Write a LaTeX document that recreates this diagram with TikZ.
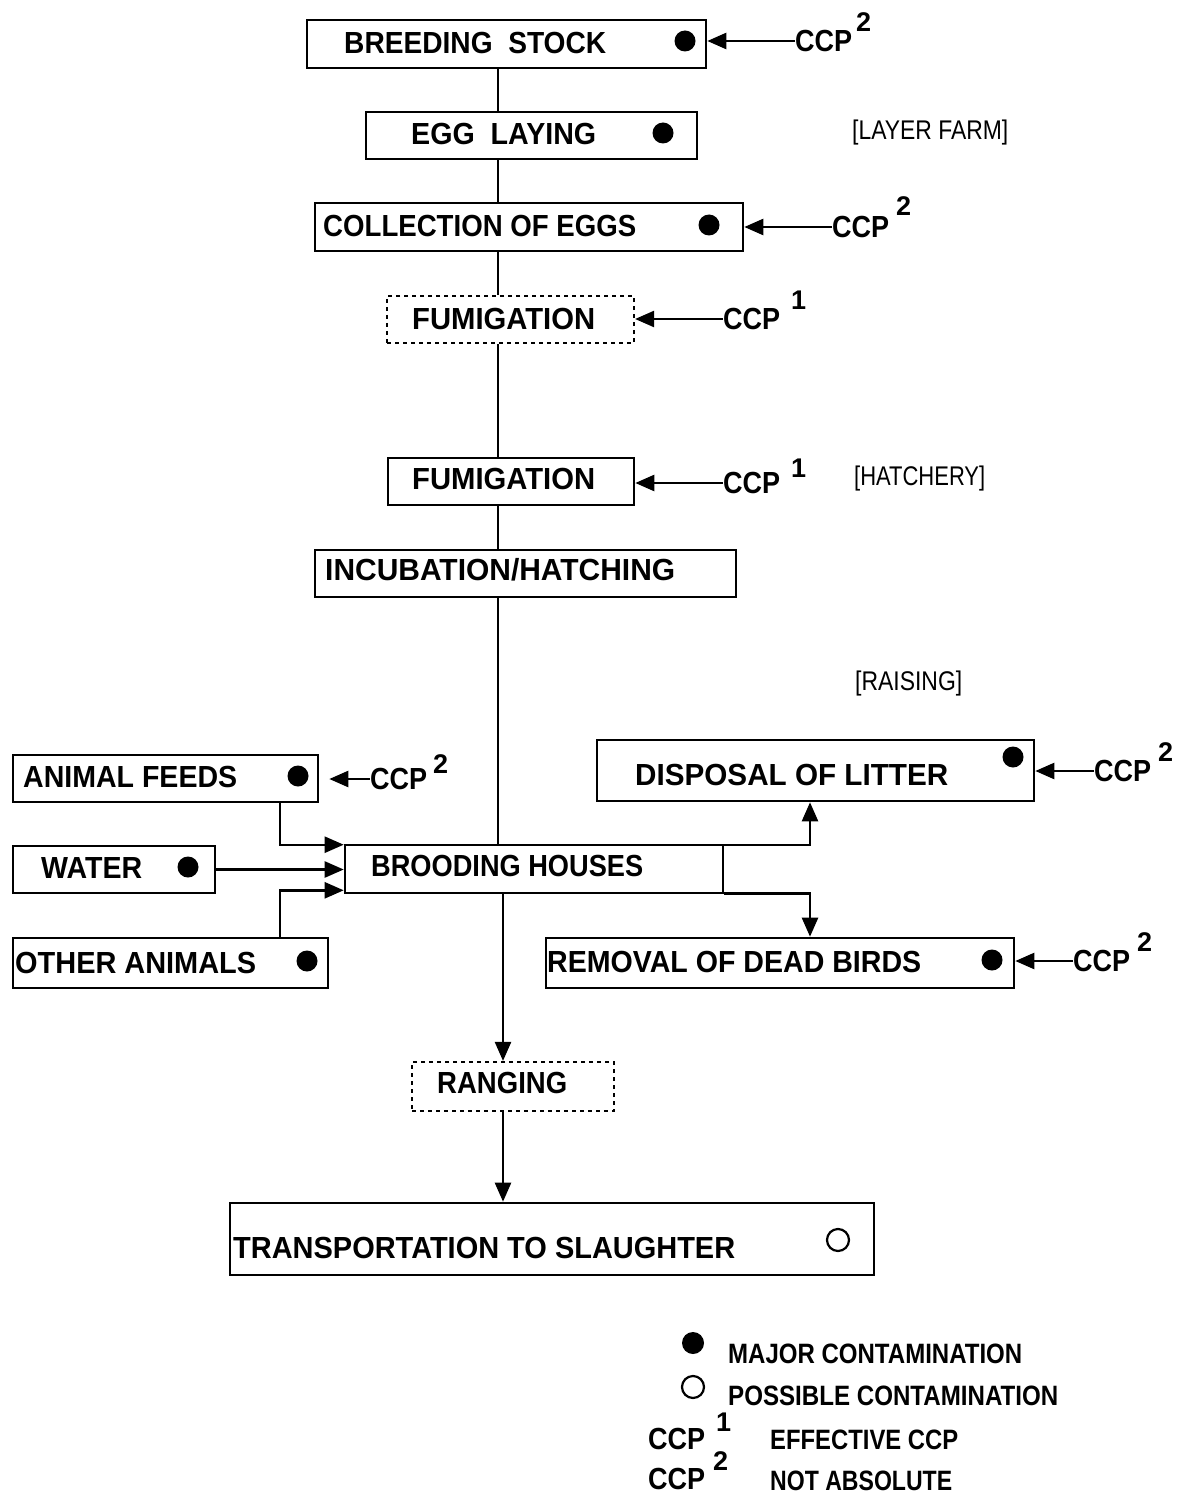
\documentclass[tikz,border=0pt]{standalone}
\usepackage{fontspec}
\setmainfont{Liberation Sans}
\usetikzlibrary{arrows.meta}
\newcommand\tx[2]{\resizebox{#1pt}{\height}{#2}}
\begin{document}
\begin{tikzpicture}[x=1pt,y=-1pt,
 box/.style={draw, line width=2.6pt, inner sep=0pt},
 dbox/.style={draw, line width=2.2pt, dash pattern=on 4pt off 4pt, inner sep=0pt},
 lbl/.style={inner sep=0pt, anchor=west, font=\fontsize{30.5}{32}\selectfont\bfseries},
 suplbl/.style={inner sep=0pt, anchor=west, font=\fontsize{27}{28}\selectfont\bfseries},
 leglbl/.style={inner sep=0pt, anchor=west, font=\fontsize{28}{30}\selectfont\bfseries},
 blbl/.style={inner sep=0pt, anchor=west, font=\fontsize{27}{28}\selectfont},
 dot/.style={circle, fill, inner sep=0pt, minimum size=21pt},
 odot/.style={circle, draw, line width=2.2pt, inner sep=0pt, minimum size=22pt},
 conn/.style={line width=2.4pt},
 arr/.style={line width=2.4pt, -{Triangle[length=19pt,width=16pt]}},
]
\useasboundingbox (0,0) rectangle (1184,1495);

% boxes
\node[box, minimum width=399pt, minimum height=48pt] (bs) at (506.5,44) {};
\node[box, minimum width=331pt, minimum height=47pt] (el) at (531.5,135.5) {};
\node[box, minimum width=428pt, minimum height=48pt] (ce) at (529,227) {};
\node[dbox, minimum width=247pt, minimum height=47pt] (f1) at (510.5,319.5) {};
\node[box, minimum width=246pt, minimum height=47pt] (f2) at (511,481.5) {};
\node[box, minimum width=421pt, minimum height=47pt] (ih) at (525.5,573.5) {};
\node[box, minimum width=305pt, minimum height=47pt] (af) at (165.5,778.5) {};
\node[box, minimum width=202pt, minimum height=47pt] (wa) at (114,869.5) {};
\node[box, minimum width=315pt, minimum height=50pt] (oa) at (170.5,963) {};
\node[box, minimum width=378pt, minimum height=48pt] (bh) at (534,869) {};
\node[box, minimum width=437pt, minimum height=61pt] (dl) at (815.5,770.5) {};
\node[box, minimum width=468pt, minimum height=50pt] (rd) at (780,963) {};
\node[dbox, minimum width=202pt, minimum height=49pt] (rg) at (513,1086.5) {};
\node[box, minimum width=644pt, minimum height=72pt] (ts) at (552,1239) {};

% box texts
\node[lbl] (bst) at (344,43) {\tx{262}{BREEDING\ \ STOCK}};
\node[lbl] (elt) at (411,134) {\tx{185}{EGG\ \ LAYING}};
\node[lbl] (cet) at (323,226) {\tx{313}{COLLECTION OF EGGS}};
\node[lbl] (f1t) at (412,319) {\tx{183}{FUMIGATION}};
\node[lbl] (f2t) at (412,479) {\tx{183}{FUMIGATION}};
\node[lbl] (iht) at (325,570) {\tx{350}{INCUBATION/HATCHING}};
\node[lbl] (aft) at (23,777) {\tx{214}{ANIMAL FEEDS}};
\node[lbl] (wat) at (41,868) {\tx{101}{WATER}};
\node[lbl] (oat) at (15,963) {\tx{241}{OTHER ANIMALS}};
\node[lbl] (bht) at (371,866) {\tx{272}{BROODING HOUSES}};
\node[lbl] (dlt) at (635,775) {\tx{313}{DISPOSAL OF LITTER}};
\node[lbl] (rdt) at (547,962) {\tx{374}{REMOVAL OF DEAD BIRDS}};
\node[lbl] (rgt) at (437,1083) {\tx{130}{RANGING}};
\node[lbl] (tst) at (233,1248) {\tx{502}{TRANSPORTATION TO SLAUGHTER}};

% dots
\node[dot] (bsd) at (685,41) {};
\node[dot] (eld) at (663,133) {};
\node[dot] (ced) at (709,225) {};
\node[dot] (afd) at (298,776) {};
\node[dot] (wad) at (188,867) {};
\node[dot] (oad) at (307,961) {};
\node[dot] (dld) at (1013,757) {};
\node[dot] (rdd) at (992,960) {};
\node[odot] (tsd) at (838,1240) {};

% CCP labels
\node[lbl] (c1) at (795,41) {\tx{57}{CCP}};
\node[suplbl] (c1s) at (856,22) {2};
\node[lbl] (c2) at (832,227) {\tx{57}{CCP}};
\node[suplbl] (c2s) at (896,206) {2};
\node[lbl] (c3) at (723,319) {\tx{57}{CCP}};
\node[suplbl] (c3s) at (791,300) {1};
\node[lbl] (c4) at (723,483) {\tx{57}{CCP}};
\node[suplbl] (c4s) at (791,468) {1};
\node[lbl] (c5) at (370,779) {\tx{57}{CCP}};
\node[suplbl] (c5s) at (433,764) {2};
\node[lbl] (c6) at (1094,771) {\tx{57}{CCP}};
\node[suplbl] (c6s) at (1158,752) {2};
\node[lbl] (c7) at (1073,961) {\tx{57}{CCP}};
\node[suplbl] (c7s) at (1137,942) {2};

% bracket labels
\node[blbl] (lf) at (852,133) {\tx{156}{[LAYER FARM]}};
\node[blbl] (hy) at (854,479) {\tx{131}{[HATCHERY]}};
\node[blbl] (rs) at (855,684) {\tx{107}{[RAISING]}};

% main line
\coordinate (mx) at (498,0);
\coordinate (mx2) at (503,0);
\draw[conn] (bs.south -| mx) -- (el.north -| mx);
\draw[conn] (el.south -| mx) -- (ce.north -| mx);
\draw[conn] (ce.south -| mx) -- (f1.north -| mx);
\draw[conn] (f1.south -| mx) -- (f2.north -| mx);
\draw[conn] (f2.south -| mx) -- (ih.north -| mx);
\draw[conn] (ih.south -| mx) -- (bh.north -| mx);
\draw[arr] (bh.south -| mx2) -- (rg.north -| mx2);
\draw[arr] (rg.south -| mx2) -- (ts.north -| mx2);

% inputs to brooding
\coordinate (fx) at (280,0);
\draw[arr] (af.south -| fx) |- ([yshift=-1pt]bh.north west);
\draw[arr] (wa.east) -- (wa.east -| bh.west);
\draw[arr] (oa.north -| fx) |- ([yshift=4pt]bh.south west);

% outputs
\coordinate (rx) at (810,0);
\draw[arr] ([yshift=-1pt]bh.north east) -| (dl.south -| rx);
\draw[arr] ([yshift=1pt]bh.south east) -| (rd.north -| rx);

% CCP arrows
\draw[arr] (c1.west) -- (c1.west -| bs.east);
\draw[arr] (c2.west) -- (c2.west -| ce.east);
\draw[arr] (c3.west) -- (c3.west -| f1.east);
\draw[arr] (c4.west) -- (c4.west -| f2.east);
\draw[arr, shorten >=10pt] (c5.west) -- (c5.west -| af.east);
\draw[arr] (c6.west) -- (c6.west -| dl.east);
\draw[arr] (c7.west) -- (c7.west -| rd.east);

% legend
\node[dot, minimum size=22pt] (lgd1) at (693,1343) {};
\node[leglbl] (lgt1) at (728,1354) {\tx{294}{MAJOR CONTAMINATION}};
\node[odot] (lgd2) at (693,1387) {};
\node[leglbl] (lgt2) at (728,1396) {\tx{330}{POSSIBLE CONTAMINATION}};
\node[lbl] (lgc1) at (648,1439) {\tx{57}{CCP}};
\node[suplbl] (lgc1s) at (716,1422) {1};
\node[leglbl] (lgt3) at (770,1440) {\tx{188}{EFFECTIVE CCP}};
\node[lbl] (lgc2) at (648,1479) {\tx{57}{CCP}};
\node[suplbl] (lgc2s) at (713,1461) {2};
\node[leglbl] (lgt4) at (770,1481) {\tx{182}{NOT ABSOLUTE}};
\end{tikzpicture}
\end{document}
